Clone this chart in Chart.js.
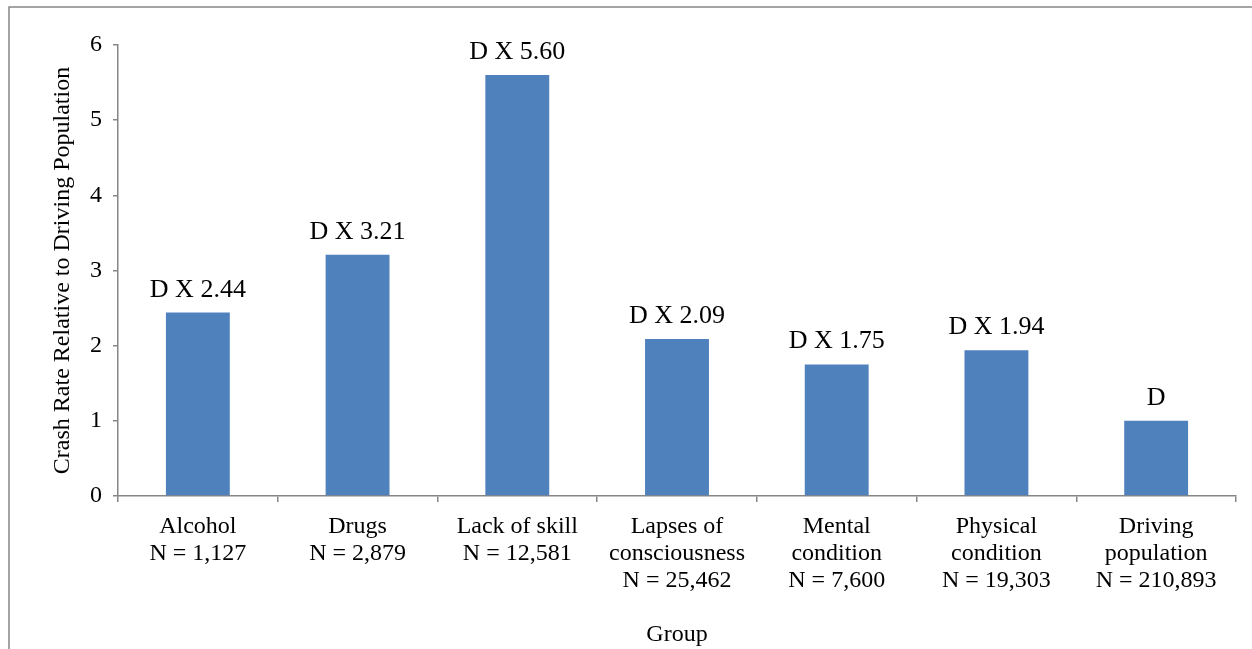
<!DOCTYPE html>
<html>
<head>
<meta charset="utf-8">
<script src="https://cdn.jsdelivr.net/npm/chart.js@4/dist/chart.umd.min.js"></script>
<style>
  html, body { margin: 0; padding: 0; background: #fff; }
  #wrap { width: 1252px; height: 649px; position: relative; }
</style>
</head>
<body>
<div id="wrap"><canvas id="crashChart"></canvas></div>
<script>
// categories (multi-line tick labels)
var groups = [
    ["Alcohol", "N = 1,127"],
    ["Drugs", "N = 2,879"],
    ["Lack of skill", "N = 12,581"],
    ["Lapses of", "consciousness", "N = 25,462"],
    ["Mental", "condition", "N = 7,600"],
    ["Physical", "condition", "N = 19,303"],
    ["Driving", "population", "N = 210,893"]
];
var crashRates = [2.44, 3.21, 5.60, 2.09, 1.75, 1.94, 1.00];
var barLabels = ["D X 2.44", "D X 3.21", "D X 5.60", "D X 2.09", "D X 1.75", "D X 1.94", "D"];
var yTicks = [0, 1, 2, 3, 4, 5, 6];

var serif = "'Liberation Serif', 'Times New Roman', serif";
var axisGray = '#868686';

// outer frame, only left and top edges show in the crop
var framePlugin = {
    id: 'frame',
    beforeDraw: function (chart) {
        var ctx = chart.ctx;
        ctx.save();
        ctx.strokeStyle = axisGray;
        ctx.lineWidth = 1.5;
        ctx.beginPath();
        ctx.moveTo(9, chart.height);
        ctx.lineTo(9, 7);
        ctx.lineTo(chart.width, 7);
        ctx.stroke();
        ctx.restore();
    }
};

// text above each bar
var barLabelPlugin = {
    id: 'barLabels',
    afterDatasetsDraw: function (chart) {
        var ctx = chart.ctx;
        var meta = chart.getDatasetMeta(0);
        ctx.save();
        ctx.font = '26px ' + serif;
        ctx.fillStyle = '#000';
        ctx.textAlign = 'center';
        ctx.textBaseline = 'alphabetic';
        meta.data.forEach(function (bar, i) {
            ctx.fillText(barLabels[i], bar.x, bar.y - 16);
        });
        ctx.restore();
    }
};

var ctx = document.getElementById('crashChart').getContext('2d');
var myChart = new Chart(ctx, {
    type: 'bar',
    data: {
        labels: groups,
        datasets: [{
            label: 'Crash rate',
            data: crashRates,
            backgroundColor: '#4F81BD',
            borderWidth: 0,
            barPercentage: 0.4,
            categoryPercentage: 1.0
        }]
    },
    options: {
        responsive: true,
        maintainAspectRatio: false,
        animation: false,
        layout: { padding: { left: 48, top: 45, right: 16, bottom: 0 } },
        plugins: {
            legend: { display: false },
            tooltip: { enabled: false }
        },
        scales: {
            x: {
                grid: {
                    offset: true,
                    drawOnChartArea: false,
                    drawTicks: true,
                    tickLength: 6,
                    color: axisGray,
                    lineWidth: 1.5
                },
                border: { color: axisGray, width: 1.5 },
                ticks: {
                    color: '#000',
                    font: { family: serif, size: 24, lineHeight: 1.13 },
                    maxRotation: 0,
                    autoSkip: false,
                    padding: 11
                },
                title: {
                    display: true,
                    text: 'Group',
                    color: '#000',
                    font: { family: serif, size: 24 },
                    padding: { top: 0, bottom: 0 }
                },
                afterFit: function (scale) { scale.height = 153; }
            },
            y: {
                min: 0,
                max: 6,
                afterBuildTicks: function (scale) {
                    scale.ticks = yTicks.map(function (v) { return { value: v }; });
                },
                grid: {
                    drawOnChartArea: false,
                    drawTicks: true,
                    tickLength: 5,
                    color: axisGray,
                    lineWidth: 1.5
                },
                border: { color: axisGray, width: 1.5 },
                ticks: {
                    color: '#000',
                    font: { family: serif, size: 24 },
                    padding: 11
                },
                title: {
                    display: true,
                    text: 'Crash Rate Relative to Driving Population',
                    color: '#000',
                    font: { family: serif, size: 24 },
                    padding: { top: 0, bottom: 0 }
                },
                afterFit: function (scale) { scale.width = 70; }
            }
        }
    },
    plugins: [framePlugin, barLabelPlugin]
});
</script>
</body>
</html>
